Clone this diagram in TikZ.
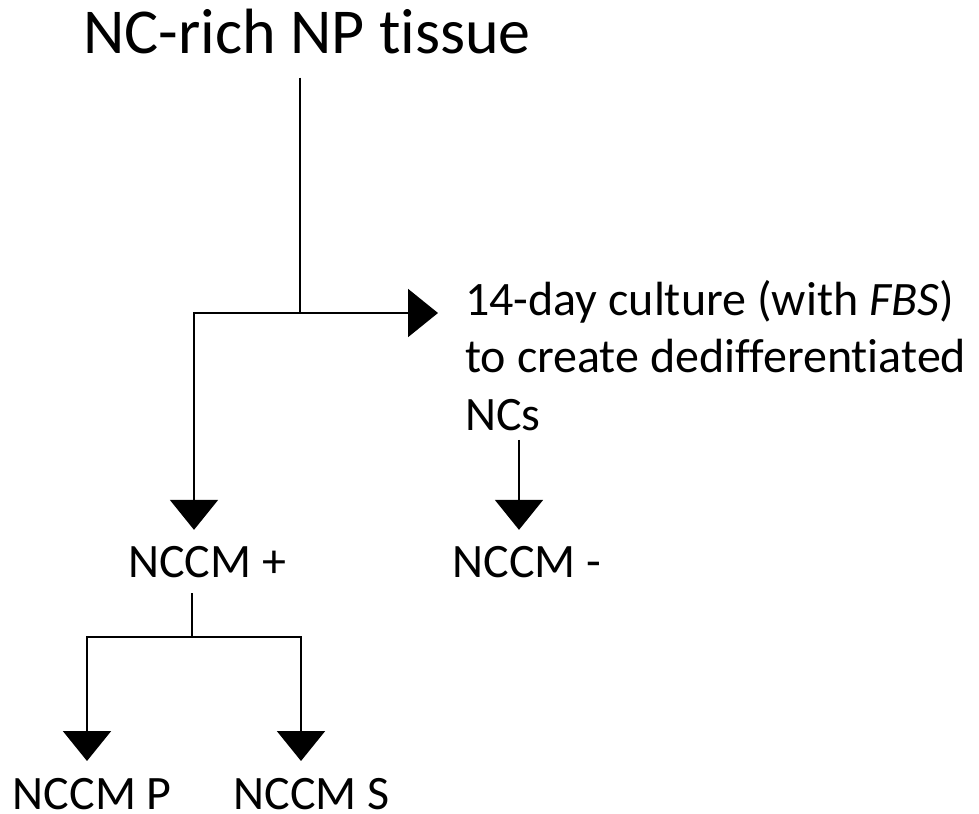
\documentclass[tikz,border=0pt]{standalone}
\usepackage{fontspec}
\setmainfont{Carlito}[Ligatures=NoCommon]
\usetikzlibrary{arrows.meta,positioning}
\tikzstyle{txt}=[inner sep=0pt, font=\fontsize{36}{43}\selectfont]
\tikzstyle{res}=[txt, outer ysep=12pt, anchor=base]
\tikzstyle{wire}=[draw, line width=1.5pt]
\tikzstyle{flow}=[wire, -{Triangle[length=22.5pt,width=36pt]}]

\begin{document}
\begin{tikzpicture}[x=0.75pt,y=-0.75pt]
        \useasboundingbox (0,0) rectangle (979,814);
        \node[txt,font=\fontsize{48}{58}\selectfont,anchor=base] (tissue) at (307,53) {NC-rich NP tissue};
        \node[txt,anchor=north west,align=left] (culture) at (465,280) {14-day culture (with \textit{FBS})\\to create dedifferentiated\\NCs};
        \node[res] (plus) at (207,577) {NCCM +};
        \node[res] (minus) at (527,577) {NCCM -};
        \coordinate (split) at (300,313);
        \coordinate (left) at (194,313);
        \coordinate (right) at (438,313);
        \coordinate (drop) at (519,442);
        \coordinate (fork) at (192,637);
        \coordinate (forkl) at (87,637);
        \coordinate (forkr) at (301,637);
        \coordinate (tipl) at (87,761);
        \coordinate (tipr) at (301,761);
        \node[txt,below=13pt of tipl,xshift=4pt] (ncp) {NCCM P};
        \node[txt,below=13pt of tipr,xshift=8pt] (ncs) {NCCM S};
        \draw[wire,shorten <=18pt] (tissue.south -| split) -- (split);
        \draw[flow] (split) -- (right);
        \draw[flow] (split) -- (left) -- (plus.north -| left);
        \draw[flow,shorten <=7pt] (culture.south -| drop) -- (minus.north -| drop);
        \draw[wire] (plus.south -| fork) -- (fork);
        \draw[flow] (fork) -- (forkl) -- (tipl);
        \draw[flow] (fork) -- (forkr) -- (tipr);
      \end{tikzpicture}
\end{document}
